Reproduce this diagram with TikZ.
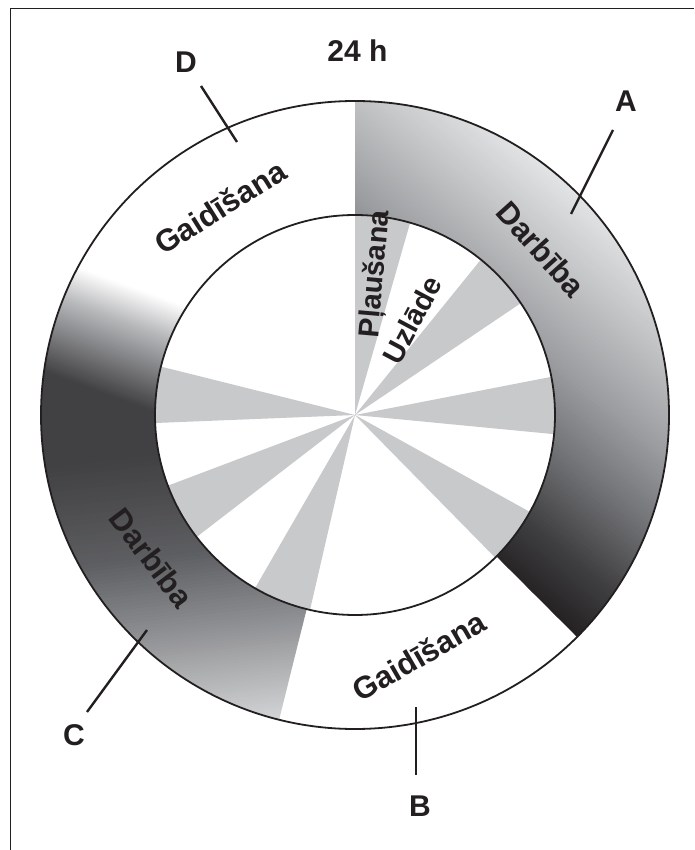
\documentclass[tikz,border=0pt]{standalone}
\usepackage{fontspec}
\setmainfont{Liberation Sans}
\definecolor{ink}{HTML}{231F20}
\definecolor{ray}{HTML}{C8C9CB}
\definecolor{Ac0}{HTML}{E6E7E8}
\definecolor{Ac1}{HTML}{C4C5C7}
\definecolor{Ac2}{HTML}{9C9DA0}
\definecolor{Ac3}{HTML}{707174}
\definecolor{Ac4}{HTML}{3F3F41}
\definecolor{Ac5}{HTML}{231F20}
\definecolor{Cc0}{HTML}{FFFFFF}
\definecolor{Cc1}{HTML}{B8B9BB}
\definecolor{Cc2}{HTML}{88898C}
\definecolor{Cc3}{HTML}{414042}
\definecolor{Lc0}{HTML}{414042}
\definecolor{Lc1}{HTML}{5D5E61}
\definecolor{Lc2}{HTML}{8A8B8E}
\definecolor{Lc3}{HTML}{B3B4B6}
\definecolor{Lc4}{HTML}{D2D3D5}
\tikzset{
  ringtxt/.style={text=ink, font=\bfseries\fontsize{31}{31}\selectfont, inner sep=0pt},
  innertxt/.style={text=ink, font=\bfseries\fontsize{29}{29}\selectfont, inner sep=0pt},
  lbl/.style={text=ink, font=\bfseries\fontsize{30}{30}\selectfont, inner sep=0pt, anchor=base},
  leader/.style={draw=ink, line width=2.4pt},
  ringline/.style={draw=ink, line width=1.8pt},
}
\begin{document}
\begin{tikzpicture}[x=1pt,y=1pt,line join=round]
\useasboundingbox (-355,-435) rectangle (339,415);
\fill[white] (-355,-435) rectangle (339,415);
% frame
\draw[ink, line width=1.5pt] (-344.5,-435) -- (-344.5,406.5) -- (339,406.5);
% rays
\foreach \a/\b in {74/90, 34/51, -5.5/11, -45.5/-29, -120/-103, 200.7/217.6, 166/182.3}
  \fill[ray] (0,0) -- (\a:200) arc[start angle=\a, end angle=\b, radius=200] -- cycle;
% sector A (Darbiba, right)
\begin{scope}
\clip (90:314) arc[start angle=90,end angle=-45,radius=314] -- (-45:200) arc[start angle=-45,end angle=90,radius=200] -- cycle;
\begin{scope}[rotate=-130]
 \fill[Ac0] (-500,-400) rectangle (-319,400);
 \foreach \sa/\sb/\ca/\cb in {-320/-250/Ac0/Ac1, -250/-170/Ac1/Ac2, -170/-100/Ac2/Ac3, -100/-30/Ac3/Ac4, -30/30/Ac4/Ac5}{
   \foreach \k in {0,...,19}{
     \pgfmathsetmacro\xa{\sa+(\sb-\sa)*\k/20}
     \pgfmathsetmacro\xb{\sa+(\sb-\sa)*(\k+1)/20+0.8}
     \pgfmathsetmacro\pp{100*(\k+0.5)/20}
     \fill[\cb!\pp!\ca] (\xa,-400) rectangle (\xb,400);
   }
 }
 \fill[Ac5] (30,-400) rectangle (500,400);
\end{scope}
\end{scope}
% sector C (Darbiba, left), upper part: fade from white
\begin{scope}
\clip (148:314) arc[start angle=148,end angle=191,radius=314] -- (191:200) arc[start angle=191,end angle=148,radius=200] -- cycle;
\begin{scope}[rotate=-110]
 \foreach \sa/\sb/\ca/\cb in {-44/-9/Cc0/Cc1, -9/21/Cc1/Cc2, 21/66/Cc2/Cc3}{
   \foreach \k in {0,...,19}{
     \pgfmathsetmacro\xa{\sa+(\sb-\sa)*\k/20}
     \pgfmathsetmacro\xb{\sa+(\sb-\sa)*(\k+1)/20+0.8}
     \pgfmathsetmacro\pp{100*(\k+0.5)/20}
     \fill[\cb!\pp!\ca] (\xa,-400) rectangle (\xb,400);
   }
 }
 \fill[Cc3] (65.5,-400) rectangle (500,400);
\end{scope}
\end{scope}
% sector C, lower part: dark to light
\begin{scope}
\clip (190:314) arc[start angle=190,end angle=256,radius=314] -- (256:200) arc[start angle=256,end angle=190,radius=200] -- cycle;
\begin{scope}[rotate=-83.4]
 \fill[Lc0] (-500,-400) rectangle (17.5,400);
 \foreach \sa/\sb/\ca/\cb in {17/118/Lc0/Lc1, 118/188/Lc1/Lc2, 188/247/Lc2/Lc3, 247/292/Lc3/Lc4}{
   \foreach \k in {0,...,19}{
     \pgfmathsetmacro\xa{\sa+(\sb-\sa)*\k/20}
     \pgfmathsetmacro\xb{\sa+(\sb-\sa)*(\k+1)/20+0.8}
     \pgfmathsetmacro\pp{100*(\k+0.5)/20}
     \fill[\cb!\pp!\ca] (\xa,-400) rectangle (\xb,400);
   }
 }
 \fill[Lc4] (291.5,-400) rectangle (500,400);
\end{scope}
\end{scope}
% ring outlines
\draw[ringline] (0,0) circle[radius=314];
\draw[ringline] (0,0) circle[radius=200];
% ring texts
\node[ringtxt, rotate=32] (gtop) at (-135,208) {Gaidīšana};
\node[ringtxt, rotate=-48] (dright) at (186,166) {Darbība};
\node[ringtxt, rotate=-53] (dleft) at (-203.5,-143) {Darbība};
\node[ringtxt, rotate=30] (gbot) at (64,-241) {Gaidīšana};
\node[innertxt, rotate=85] (plau) at (21,141) {Pļaušana};
\node[innertxt, rotate=62] (uzl) at (57,95) {Uzlāde};
% labels
\node[lbl] (h24) at (2.5,353) {24 h};
\node[lbl] (A) at (271,303) {A};
\node[lbl] (B) at (65,-401) {B};
\node[lbl] (C) at (-281,-330) {C};
\node[lbl] (D) at (-169,342) {D};
% leader lines
\coordinate (a1) at (216,201); \coordinate (a2) at (258,285);
\coordinate (b1) at (61,-292); \coordinate (b2) at (61,-360);
\coordinate (c1) at (-208,-215); \coordinate (c2) at (-268,-297);
\coordinate (d1) at (-118,273); \coordinate (d2) at (-154,329);
\draw[leader] (a1) -- (a2);
\draw[leader] (b1) -- (b2);
\draw[leader] (c1) -- (c2);
\draw[leader] (d1) -- (d2);
\end{tikzpicture}
\end{document}
